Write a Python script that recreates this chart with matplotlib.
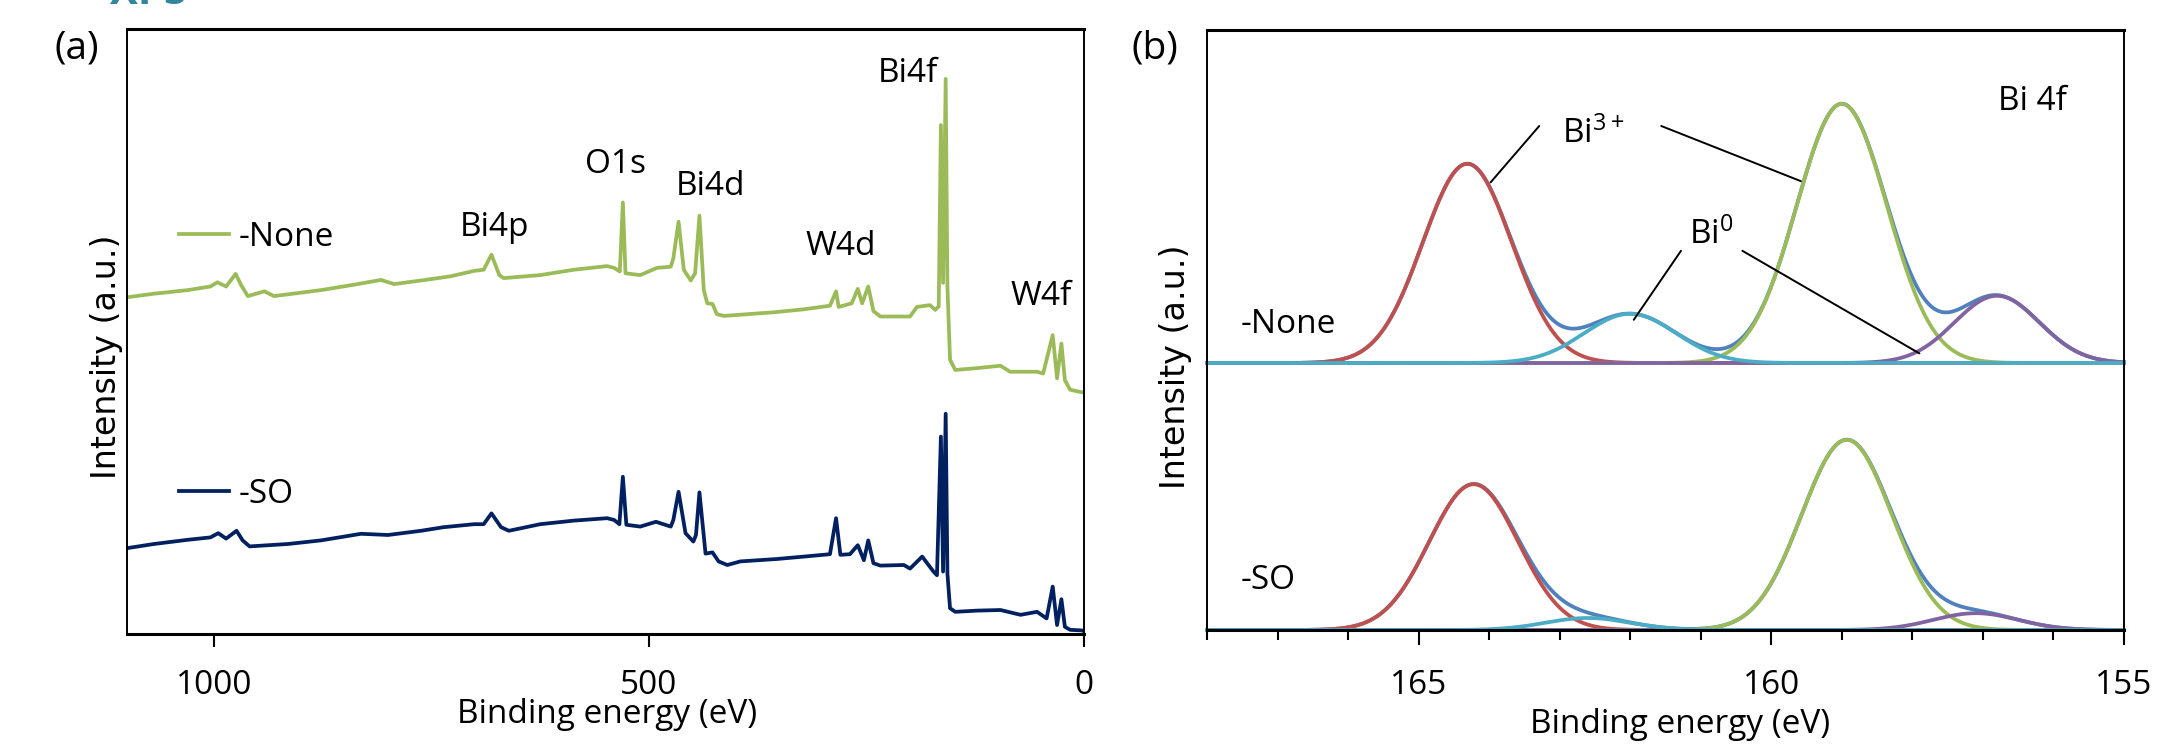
import numpy as np
import matplotlib.pyplot as plt
from matplotlib.lines import Line2D
from matplotlib.ticker import MultipleLocator

plt.rcParams['font.family'] = ['Open Sans', 'DejaVu Sans']
plt.rcParams['mathtext.default'] = 'regular'
FS = 24

# ---- (a) survey spectra: binding energy (eV) / intensity (a.u., offset) ----
be_none = [1100, 1069, 1030, 1004, 996, 986, 975, 969, 961, 942,
           931, 877, 839, 808, 793, 762, 728, 701, 690, 681,
           672, 667, 625, 586, 548, 540, 533.5, 530, 527, 510,
           491, 475, 472, 466, 460, 452, 447, 442, 437, 433,
           427, 422, 414, 357, 322, 292, 285, 282, 267, 260,
           255, 248, 242, 234, 200, 192, 177, 171, 167, 164.5,
           162, 159, 157, 154, 148, 123, 96, 85, 54, 47,
           36, 31, 26, 22, 16, 0]
int_none = [56.1, 56.7, 57.3, 57.9, 58.6, 57.9, 60.0, 58.2, 56.3, 57.1,
            56.3, 57.3, 58.2, 59.0, 58.3, 58.9, 59.6, 60.5, 60.7, 63.2,
            59.8, 59.3, 59.8, 60.7, 61.3, 61.0, 60.4, 71.9, 60.1, 59.8,
            61.0, 61.2, 62.6, 68.7, 60.7, 58.9, 60.1, 69.7, 57.3, 55.1,
            55.0, 53.3, 53.0, 53.6, 54.1, 54.7, 57.1, 54.5, 55.1, 57.5,
            55.1, 57.9, 53.8, 52.9, 52.9, 54.5, 54.8, 54.0, 54.6, 84.8,
            58.5, 92.5, 57.9, 45.7, 44.0, 44.3, 44.7, 43.7, 43.7, 43.4,
            49.8, 42.6, 48.4, 42.3, 40.7, 40.2]

be_so = [1100, 1069, 1030, 1004, 995, 986, 974, 967, 959, 915,
         877, 831, 800, 762, 736, 701, 690, 681, 670, 661,
         625, 586, 548, 540, 534, 530, 526, 510, 492, 475,
         472, 466, 458, 449, 446, 442, 435, 427, 420, 410,
         395, 353, 322, 292, 285, 280, 269, 260, 253, 248,
         242, 234, 207, 200, 186, 173, 169, 164.5, 162, 159,
         157, 154, 148, 123, 96, 73, 54, 43, 36, 31,
         26, 22, 16, 3, 0]
int_so = [14.3, 15.0, 15.7, 16.1, 16.8, 15.9, 17.2, 15.6, 14.6, 15.0,
          15.6, 16.7, 16.5, 17.2, 17.8, 18.3, 18.3, 20.1, 17.8, 17.2,
          18.3, 18.9, 19.3, 19.0, 18.3, 26.2, 18.2, 17.9, 18.7, 17.9,
          19.0, 23.7, 16.8, 15.4, 16.5, 23.6, 13.4, 13.6, 12.1, 11.5,
          12.1, 12.5, 12.9, 13.3, 19.3, 13.2, 13.3, 14.8, 12.3, 15.6,
          11.8, 11.4, 11.5, 10.9, 12.9, 10.4, 9.8, 32.9, 10.4, 36.7,
          10.1, 4.3, 3.7, 3.9, 4.0, 3.2, 3.7, 2.6, 7.9, 1.5,
          5.8, 1.2, 0.7, 0.6, 0.5]

# peak labels: text, energy, height of baseline
survey_labels = ['Bi4p', 'O1s', 'Bi4d', 'W4d', 'Bi4f', 'W4f']
survey_label_be = [678, 538, 429, 280, 202, 49]
survey_label_y = [66.3, 76.8, 73.2, 63.2, 92.0, 54.8]

# ---- (b) Bi 4f fitted components: Bi3+ 4f5/2, Bi0 4f5/2, Bi3+ 4f7/2, Bi0 4f7/2 ----
comp_colors = ['#C0504D', '#4BACC6', '#9BBB59', '#8064A2']
none_offset = 44.5
none_center = [164.31, 162.0, 159.0, 156.8]
none_height = [33.2, 8.2, 43.2, 11.2]
none_sigma = [0.63, 0.65, 0.64, 0.60]
so_offset = 0.0
so_center = [164.22, 162.6, 158.93, 157.1]
so_height = [24.3, 2.0, 31.7, 2.8]
so_sigma = [0.63, 0.60, 0.64, 0.60]

green = '#9BBB59'
navy = '#002060'
envelope = '#4F81BD'

fig = plt.figure(figsize=(21.62, 7.46), dpi=100)
ax1 = fig.add_axes([0.0587, 0.1501, 0.4427, 0.8110])
ax2 = fig.add_axes([0.5583, 0.1555, 0.4241, 0.8043])

fig.text(0.051, 0.9946, 'XPS', fontsize=30, fontweight='bold', color='#31859C',
         va='baseline', ha='left')

# ---------------- panel (a) ----------------
ax1.plot(be_none, int_none, color=green, lw=2.7)
ax1.plot(be_so, int_so, color=navy, lw=2.7)
ax1.set_xlim(1100, 0)
ax1.set_ylim(0, 100.8)
ax1.set_xticks([1000, 500, 0])
ax1.set_yticks([])
ax1.tick_params(axis='x', direction='out', length=9, width=1.5, labelsize=FS, pad=16)

for txt, xb, yb in zip(survey_labels, survey_label_be, survey_label_y):
    ax1.text(xb, yb, txt, fontsize=FS, ha='center', va='baseline')

leg1 = ax1.legend(handles=[Line2D([], [], color=green, lw=2.7)], labels=['-None'],
                  loc='center left', bbox_to_anchor=(0.054, 0.656), frameon=False,
                  handlelength=1.5, handletextpad=0.3, borderpad=0, borderaxespad=0,
                  fontsize=FS)
ax1.add_artist(leg1)
ax1.legend(handles=[Line2D([], [], color=navy, lw=2.7)], labels=['-SO'],
           loc='center left', bbox_to_anchor=(0.054, 0.231), frameon=False,
           handlelength=1.5, handletextpad=0.3, borderpad=0, borderaxespad=0,
           fontsize=FS)

ax1.set_xlabel('Binding energy (eV)', fontsize=FS)
ax1.xaxis.set_label_coords(0.502, -0.106)
ax1.set_ylabel('Intensity (a.u.)', fontsize=FS, family='DejaVu Sans')
ax1.yaxis.set_label_coords(-0.004, 0.458)
fig.text(0.0355, 0.935, '(a)', fontsize=28, ha='center', va='center')

# ---------------- panel (b) ----------------
energy = np.linspace(155, 168, 800)


def draw_fit(ax, offset, centers, heights, sigmas):
    comps = [h * np.exp(-(energy - c) ** 2 / (2 * s ** 2))
             for c, h, s in zip(centers, heights, sigmas)]
    ax.plot(energy, offset + np.sum(comps, axis=0), color=envelope, lw=2.7, clip_on=False)
    for i in [0, 2, 3, 1]:
        ax.plot(energy, offset + comps[i], color=comp_colors[i], lw=2.7, clip_on=False)


draw_fit(ax2, none_offset, none_center, none_height, none_sigma)
draw_fit(ax2, so_offset, so_center, so_height, so_sigma)

ax2.set_xlim(168, 155)
ax2.set_ylim(0, 100)
ax2.xaxis.set_major_locator(MultipleLocator(5))
ax2.xaxis.set_minor_locator(MultipleLocator(1))
ax2.set_yticks([])
ax2.tick_params(axis='x', which='major', direction='out', length=11, width=1.5,
                labelsize=FS, pad=17)
ax2.tick_params(axis='x', which='minor', direction='out', length=7, width=1.5)

ax2.text(162.97, 81.2, 'Bi$^{3+}$', fontsize=FS, ha='left', va='baseline')
ax2.text(161.16, 64.3, 'Bi$^{0}$', fontsize=FS, ha='left', va='baseline')
ax2.text(156.79, 86.7, 'Bi 4f', fontsize=FS, ha='left', va='baseline')
ax2.text(167.52, 49.5, '-None', fontsize=FS, ha='left', va='baseline')
ax2.text(167.52, 6.8, '-SO', fontsize=FS, ha='left', va='baseline')

leaders = [((163.29, 84.0), (163.98, 74.6)),
           ((161.56, 84.0), (159.58, 74.8)),
           ((161.28, 63.2), (161.95, 51.7)),
           ((160.41, 63.2), (157.90, 46.1))]
for start, end in leaders:
    ax2.annotate('', xy=end, xytext=start,
                 arrowprops=dict(arrowstyle='-', color='black', lw=1.4,
                                 shrinkA=0, shrinkB=0))

ax2.set_xlabel('Binding energy (eV)', fontsize=FS)
ax2.xaxis.set_label_coords(0.516, -0.13)
ax2.set_ylabel('Intensity (a.u.)', fontsize=FS, family='DejaVu Sans')
ax2.yaxis.set_label_coords(-0.016, 0.438)
fig.text(0.534, 0.935, '(b)', fontsize=28, ha='center', va='center')

for ax in (ax1, ax2):
    for side in ('top', 'bottom'):
        ax.spines[side].set_linewidth(2.2)
    for side in ('left', 'right'):
        ax.spines[side].set_linewidth(1.4)

fig.savefig('out.png', dpi=100)
